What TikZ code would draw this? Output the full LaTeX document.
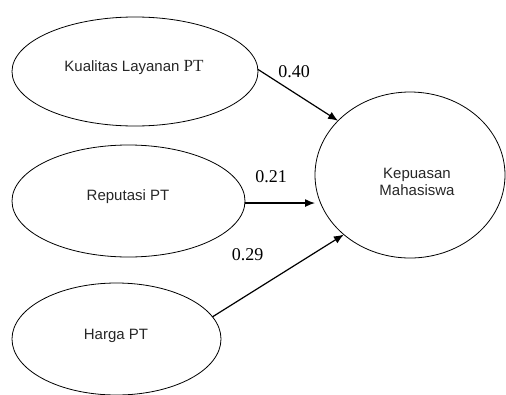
\documentclass[tikz,border=0pt]{standalone}
\usepackage{fontspec}
\setmainfont{Liberation Serif}
\setsansfont{Liberation Sans}
\usetikzlibrary{shapes.geometric,arrows.meta}
\begin{document}
\begin{tikzpicture}[x=1pt,y=-1pt,
  var/.style={draw,ellipse,inner sep=0pt,outer sep=0pt,line width=0.8pt},
  lbl/.style={font=\sffamily\fontsize{15}{17}\selectfont,align=center,inner sep=0pt,text=black!85},
  coef/.style={font=\fontsize{18}{20}\selectfont,inner sep=0pt,anchor=base},
  path/.style={line width=1.2pt,-{Latex[length=10pt,width=8pt]}}]
\useasboundingbox (0,0) rectangle (506,394);
\node[var,minimum width=246pt,minimum height=109pt] (k) at (135,71.5) {};
\node[var,minimum width=233pt,minimum height=112pt] (r) at (128.5,201) {};
\node[var,minimum width=209pt,minimum height=112pt] (h) at (116.5,339) {};
\node[var,minimum width=190pt,minimum height=166pt] (m) at (410,175) {};
\node[lbl,anchor=base] (kt) at (134,71) {Kualitas Layanan {\rmfamily\fontsize{17}{20}\selectfont PT}};
\node[lbl,anchor=base] (rt) at (128,200) {Reputasi PT};
\node[lbl,anchor=base] (ht) at (116,339) {Harga PT};
\node[lbl] (mt) at (417,181.5) {Kepuasan\\Mahasiswa};
\draw[path] (k.1) -- (m.143);
\draw[path] (r.-1) -- (r.-1 -| m.west);
\draw[path] (h.13) -- (m.222);
\node[coef] (c1) at (294,77) {0.40};
\node[coef] (c2) at (271,182) {0.21};
\node[coef] (c3) at (247.5,260) {0.29};
\end{tikzpicture}
\end{document}
